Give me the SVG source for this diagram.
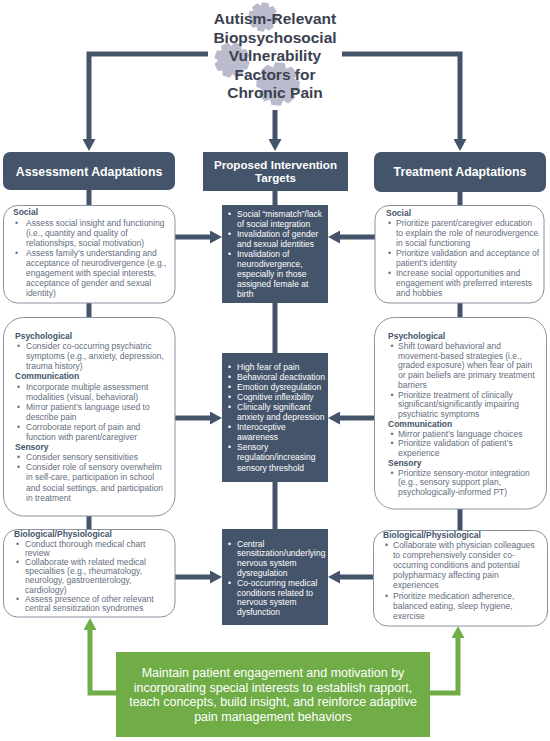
<svg xmlns="http://www.w3.org/2000/svg" xmlns:xlink="http://www.w3.org/1999/xlink" width="550" height="741" viewBox="0 0 550 741">
<defs>
<style>
.title{font-family:"Liberation Sans",Arial,sans-serif;font-weight:bold;font-size:15.5px;fill:#3a4150;text-anchor:middle}
.hdr{font-family:"Liberation Sans",Arial,sans-serif;font-weight:bold;font-size:12.3px;fill:#fff;text-anchor:middle}
.hdrm{font-family:"Liberation Sans",Arial,sans-serif;font-weight:bold;font-size:11.6px;fill:#fff;text-anchor:middle}
.h{font-family:"Liberation Sans",Arial,sans-serif;font-weight:bold;font-size:8.5px;fill:#44546a}
.b{font-family:"Liberation Sans",Arial,sans-serif;font-size:8.5px;fill:#646e7e}
.w{font-family:"Liberation Sans",Arial,sans-serif;font-size:8.5px;fill:#fff}
.g{font-family:"Liberation Sans",Arial,sans-serif;font-size:12.5px;fill:#fff;text-anchor:middle}
.box{fill:#fff;stroke:#8a929f;stroke-width:1}
.dark{fill:#44546a}
.con{fill:none;stroke:#44546a;stroke-width:5}
.gcon{fill:none;stroke:#70ad47;stroke-width:5}
.gear{fill:#babbcc}
</style>
<marker id="ah" viewBox="0 0 12 13" markerWidth="12" markerHeight="13" refX="4" refY="6.5" orient="auto" markerUnits="userSpaceOnUse">
<path d="M0,0 L12,6.5 L0,13 z" fill="#44546a"/>
</marker>
<marker id="gh" viewBox="0 0 12 13" markerWidth="12" markerHeight="13" refX="4" refY="6.5" orient="auto" markerUnits="userSpaceOnUse">
<path d="M0,0 L12,6.5 L0,13 z" fill="#70ad47"/>
</marker>
<path id="tooth" d="M-3.2,-7 L-2.2,-10 L2.2,-10 L3.2,-7 z"/>
<g id="gearshape">
<circle r="7.9"/>
<use xlink:href="#tooth"/>
<use xlink:href="#tooth" transform="rotate(45)"/>
<use xlink:href="#tooth" transform="rotate(90)"/>
<use xlink:href="#tooth" transform="rotate(135)"/>
<use xlink:href="#tooth" transform="rotate(180)"/>
<use xlink:href="#tooth" transform="rotate(225)"/>
<use xlink:href="#tooth" transform="rotate(270)"/>
<use xlink:href="#tooth" transform="rotate(315)"/>
</g>
</defs>
<rect width="550" height="741" fill="#fff"/>

<g id="connectors">
<path class="con" d="M208,54 H89 V143" marker-end="url(#ah)"/>
<path class="con" d="M342,54 H460 V143" marker-end="url(#ah)"/>
<path class="con" d="M275,110 V143" marker-end="url(#ah)"/>
<path class="con" d="M89,189 V206 M89,302 V318 M89,515 V530"/>
<path class="con" d="M460,190 V206 M460,302 V318 M460,508 V531"/>
<path class="con" d="M275,190 V206 M275,302 V354 M275,481 V530"/>
<path class="con" d="M175,237 H214" marker-end="url(#ah)"/>
<path class="con" d="M375,237 H336" marker-end="url(#ah)"/>
<path class="con" d="M175,418 H214" marker-end="url(#ah)"/>
<path class="con" d="M374,418 H336" marker-end="url(#ah)"/>
<path class="con" d="M175,577 H214" marker-end="url(#ah)"/>
<path class="con" d="M373,577 H336" marker-end="url(#ah)"/>
<path class="gcon" d="M117,693 H90 V626" marker-end="url(#gh)"/>
<path class="gcon" d="M429,693 H458 V634" marker-end="url(#gh)"/>
</g>

<g id="title">
<g class="gear">
<use xlink:href="#gearshape" transform="translate(263,17) scale(1.45) rotate(10)"/>
<use xlink:href="#gearshape" transform="translate(232,60) scale(1.75) rotate(20)"/>
<use xlink:href="#gearshape" transform="translate(278,84) scale(2.15) rotate(5)"/>
</g>
<text class="title" x="275" y="24">Autism-Relevant</text>
<text class="title" x="275" y="42.5">Biopsychosocial</text>
<text class="title" x="275" y="61">Vulnerability</text>
<text class="title" x="275" y="79.5">Factors for</text>
<text class="title" x="275" y="98">Chronic Pain</text>
</g>

<g id="assessment-header">
<rect class="dark" x="3" y="152" width="172" height="38" rx="7"/>
<text class="hdr" x="89" y="175.5">Assessment Adaptations</text>
</g>
<g id="targets-header">
<rect class="dark" x="203" y="152" width="145" height="39"/>
<text class="hdrm" x="275.5" y="168.5">Proposed Intervention</text>
<text class="hdrm" x="275.5" y="182">Targets</text>
</g>
<g id="treatment-header">
<rect class="dark" x="374" y="152" width="172" height="40" rx="7"/>
<text class="hdr" x="460" y="176">Treatment Adaptations</text>
</g>

<g id="assess-social">
<rect class="box" x="3.5" y="205.5" width="171.5" height="97.5" rx="14"/>
<text class="h" x="13" y="215">Social</text>
<text class="b"><tspan x="15" y="226">•</tspan><tspan x="26" y="226">Assess social insight and functioning</tspan><tspan x="26" y="236">(i.e., quantity and quality of</tspan><tspan x="26" y="246">relationships, social motivation)</tspan><tspan x="15" y="256">•</tspan><tspan x="26" y="256">Assess family’s understanding and</tspan><tspan x="26" y="266">acceptance of neurodivergence (e.g.,</tspan><tspan x="26" y="276">engagement with special interests,</tspan><tspan x="26" y="286">acceptance of gender and sexual</tspan><tspan x="26" y="296">identity)</tspan></text>
</g>

<g id="target-social">
<rect class="dark" x="222" y="205" width="106" height="98"/>
<text class="w"><tspan x="228" y="217">•</tspan><tspan x="237" y="217">Social “mismatch”/lack</tspan><tspan x="237" y="227">of social integration</tspan><tspan x="228" y="237">•</tspan><tspan x="237" y="237">Invalidation of gender</tspan><tspan x="237" y="247">and sexual identities</tspan><tspan x="228" y="257">•</tspan><tspan x="237" y="257">Invalidation of</tspan><tspan x="237" y="267">neurodivergence,</tspan><tspan x="237" y="277">especially in those</tspan><tspan x="237" y="287">assigned female at</tspan><tspan x="237" y="297">birth</tspan></text>
</g>

<g id="treat-social">
<rect class="box" x="375" y="205.5" width="169" height="97.5" rx="14"/>
<text class="h" x="386" y="215.5">Social</text>
<text class="b"><tspan x="388" y="226">•</tspan><tspan x="396" y="226">Prioritize parent/caregiver education</tspan><tspan x="396" y="236">to explain the role of neurodivergence</tspan><tspan x="396" y="246">in social functioning</tspan><tspan x="388" y="256">•</tspan><tspan x="396" y="256">Prioritize validation and acceptance of</tspan><tspan x="396" y="266">patient’s identity</tspan><tspan x="388" y="276">•</tspan><tspan x="396" y="276">Increase social opportunities and</tspan><tspan x="396" y="286">engagement with preferred interests</tspan><tspan x="396" y="296">and hobbies</tspan></text>
</g>

<g id="assess-psych">
<rect class="box" x="3.5" y="317.5" width="171.5" height="198.5" rx="20"/>
<text class="h"><tspan x="15" y="339">Psychological</tspan><tspan x="15" y="379.4">Communication</tspan><tspan x="15" y="450.1">Sensory</tspan></text>
<text class="b"><tspan x="17" y="349.1">•</tspan><tspan x="26" y="349.1">Consider co-occurring psychiatric</tspan><tspan x="26" y="359.2">symptoms (e.g., anxiety, depression,</tspan><tspan x="26" y="369.3">trauma history)</tspan><tspan x="17" y="389.5">•</tspan><tspan x="26" y="389.5">Incorporate multiple assessment</tspan><tspan x="26" y="399.6">modalities (visual, behavioral)</tspan><tspan x="17" y="409.7">•</tspan><tspan x="26" y="409.7">Mirror patient’s language used to</tspan><tspan x="26" y="419.8">describe pain</tspan><tspan x="17" y="429.9">•</tspan><tspan x="26" y="429.9">Corroborate report of pain and</tspan><tspan x="26" y="440">function with parent/caregiver</tspan><tspan x="17" y="460.2">•</tspan><tspan x="26" y="460.2">Consider sensory sensitivities</tspan><tspan x="17" y="470.3">•</tspan><tspan x="26" y="470.3">Consider role of sensory overwhelm</tspan><tspan x="26" y="480.4">in self-care, participation in school</tspan><tspan x="26" y="490.5">and social settings, and participation</tspan><tspan x="26" y="500.6">in treatment</tspan></text>
</g>

<g id="target-psych">
<rect class="dark" x="222" y="353" width="106" height="129"/>
<text class="w"><tspan x="228" y="370">•</tspan><tspan x="237" y="370">High fear of pain</tspan><tspan x="228" y="380">•</tspan><tspan x="237" y="380">Behavioral deactivation</tspan><tspan x="228" y="390">•</tspan><tspan x="237" y="390">Emotion dysregulation</tspan><tspan x="228" y="400">•</tspan><tspan x="237" y="400">Cognitive inflexibility</tspan><tspan x="228" y="410">•</tspan><tspan x="237" y="410">Clinically significant</tspan><tspan x="237" y="420">anxiety and depression</tspan><tspan x="228" y="430">•</tspan><tspan x="237" y="430">Interoceptive</tspan><tspan x="237" y="440">awareness</tspan><tspan x="228" y="450">•</tspan><tspan x="237" y="450">Sensory</tspan><tspan x="237" y="460">regulation/increasing</tspan><tspan x="237" y="470.5">sensory threshold</tspan></text>
</g>

<g id="treat-psych">
<rect class="box" x="374.5" y="317.5" width="172" height="191.5" rx="20"/>
<text class="h"><tspan x="388" y="339">Psychological</tspan><tspan x="388" y="426.75">Communication</tspan><tspan x="388" y="465.75">Sensory</tspan></text>
<text class="b"><tspan x="390.5" y="348.75">•</tspan><tspan x="398" y="348.75">Shift toward behavioral and</tspan><tspan x="398" y="358.5">movement-based strategies (i.e.,</tspan><tspan x="398" y="368.25">graded exposure) when fear of pain</tspan><tspan x="398" y="378">or pain beliefs are primary treatment</tspan><tspan x="398" y="387.75">barriers</tspan><tspan x="390.5" y="397.5">•</tspan><tspan x="398" y="397.5">Prioritize treatment of clinically</tspan><tspan x="398" y="407.25">significant/significantly impairing</tspan><tspan x="398" y="417">psychiatric symptoms</tspan><tspan x="390.5" y="436.5">•</tspan><tspan x="398" y="436.5">Mirror patient’s language choices</tspan><tspan x="390.5" y="446.25">•</tspan><tspan x="398" y="446.25">Prioritize validation of patient’s</tspan><tspan x="398" y="456">experience</tspan><tspan x="390.5" y="475.5">•</tspan><tspan x="398" y="475.5">Prioritize sensory-motor integration</tspan><tspan x="398" y="485.25">(e.g., sensory support plan,</tspan><tspan x="398" y="495">psychologically-informed PT)</tspan></text>
</g>

<g id="assess-bio">
<rect class="box" x="3.5" y="529.5" width="171.5" height="87.5" rx="14"/>
<text class="h" x="14" y="537.3">Biological/Physiological</text>
<text class="b"><tspan x="16" y="546.5">•</tspan><tspan x="25" y="546.5">Conduct thorough medical chart</tspan><tspan x="25" y="555.7">review</tspan><tspan x="16" y="564.9">•</tspan><tspan x="25" y="564.9">Collaborate with related medical</tspan><tspan x="25" y="574.1">specialties (e.g., rheumatology,</tspan><tspan x="25" y="583.3">neurology, gastroenterology,</tspan><tspan x="25" y="592.5">cardiology)</tspan><tspan x="16" y="601.7">•</tspan><tspan x="25" y="601.7">Assess presence of other relevant</tspan><tspan x="25" y="610.9">central sensitization syndromes</tspan></text>
</g>

<g id="target-bio">
<rect class="dark" x="222" y="529" width="106" height="96"/>
<text class="w"><tspan x="228" y="546.5">•</tspan><tspan x="237" y="546.5">Central</tspan><tspan x="237" y="556.3">sensitization/underlying</tspan><tspan x="237" y="566">nervous system</tspan><tspan x="237" y="576">dysregulation</tspan><tspan x="228" y="585.7">•</tspan><tspan x="237" y="585.7">Co-occurring medical</tspan><tspan x="237" y="595.5">conditions related to</tspan><tspan x="237" y="605.3">nervous system</tspan><tspan x="237" y="615">dysfunction</tspan></text>
</g>

<g id="treat-bio">
<rect class="box" x="373.5" y="530.5" width="174" height="95.5" rx="14"/>
<text class="h" x="383" y="538">Biological/Physiological</text>
<text class="b"><tspan x="385" y="548">•</tspan><tspan x="393" y="548">Collaborate with physician colleagues</tspan><tspan x="393" y="558.1">to comprehensively consider co-</tspan><tspan x="393" y="568.2">occurring conditions and potential</tspan><tspan x="393" y="578.3">polypharmacy affecting pain</tspan><tspan x="393" y="588.4">experiences</tspan><tspan x="385" y="598.5">•</tspan><tspan x="393" y="598.5">Prioritize medication adherence,</tspan><tspan x="393" y="608.6">balanced eating, sleep hygiene,</tspan><tspan x="393" y="618.7">exercise</tspan></text>
</g>

<g id="engagement">
<rect x="116" y="652" width="314" height="85" fill="#70ad47"/>
<text class="g" x="273" y="677">Maintain patient engagement and motivation by</text>
<text class="g" x="273" y="691.7">incorporating special interests to establish rapport,</text>
<text class="g" x="273" y="706.3">teach concepts, build insight, and reinforce adaptive</text>
<text class="g" x="273" y="721">pain management behaviors</text>
</g>
</svg>
